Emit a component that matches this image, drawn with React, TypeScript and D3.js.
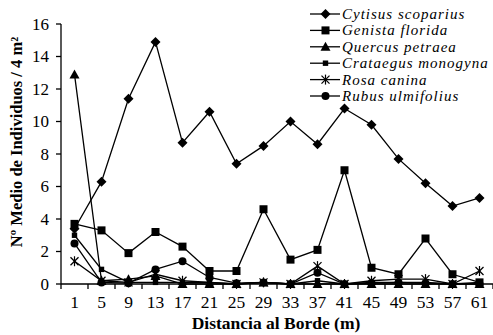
import React from "react";
import * as d3 from "d3";

const distances = ["1", "5", "9", "13", "17", "21", "25", "29", "33", "37", "41", "45", "49", "53", "57", "61"];
const cytisus = [3.4, 6.3, 11.4, 14.9, 8.7, 10.6, 7.4, 8.5, 10.0, 8.6, 10.8, 9.8, 7.7, 6.2, 4.8, 5.3];
const genista = [3.7, 3.3, 1.9, 3.2, 2.3, 0.8, 0.8, 4.6, 1.5, 2.1, 7.0, 1.0, 0.6, 2.8, 0.6, 0.1];
const quercus = [12.9, 0.2, 0.3, 0.5, 0.0, 0.0, 0.0, 0.1, 0.0, 0.0, 0.0, 0.0, 0.0, 0.0, 0.0, 0.0];
const crataegus = [3.0, 0.9, 0.1, 0.1, 0.1, 0.1, 0.0, 0.1, 0.0, 0.2, 0.0, 0.1, 0.1, 0.1, 0.0, 0.1];
const rosa = [1.4, 0.2, 0.1, 0.6, 0.2, 0.1, 0.0, 0.1, 0.0, 1.1, 0.0, 0.2, 0.3, 0.3, 0.0, 0.8];
const rubus = [2.5, 0.1, 0.05, 0.9, 1.4, 0.4, 0.05, 0.1, 0.0, 0.7, 0.0, 0.05, 0.1, 0.05, 0.0, 0.0];
const yTicks = [0, 2, 4, 6, 8, 10, 12, 14, 16];

const series = [
  { name: "Cytisus scoparius", values: cytisus, marker: "diamond" },
  { name: "Genista florida", values: genista, marker: "square" },
  { name: "Quercus petraea", values: quercus, marker: "triangle" },
  { name: "Crataegus monogyna", values: crataegus, marker: "smallsquare" },
  { name: "Rosa canina", values: rosa, marker: "asterisk" },
  { name: "Rubus ulmifolius", values: rubus, marker: "circle" },
];

const W = 493;
const H = 335;
const left = 61;
const right = 493;
const top = 24;
const bottom = 284;
const serif = { fontFamily: "Liberation Serif" };

const Marker = ({ type, x, y }: { type: string; x: number; y: number }) => {
  switch (type) {
    case "diamond":
      return <path d={`M${x},${y - 5}L${x + 5},${y}L${x},${y + 5}L${x - 5},${y}Z`} fill="#000" />;
    case "square":
      return <rect x={x - 4} y={y - 4} width={8} height={8} fill="#000" />;
    case "triangle":
      return <path d={`M${x},${y - 5}L${x + 5},${y + 4}L${x - 5},${y + 4}Z`} fill="#000" />;
    case "smallsquare":
      return <rect x={x - 2.7} y={y - 2.7} width={5.4} height={5.4} fill="#000" />;
    case "asterisk":
      return (
        <g stroke="#000" strokeWidth={1.2}>
          <line x1={x - 4} y1={y - 4} x2={x + 4} y2={y + 4} />
          <line x1={x - 4} y1={y + 4} x2={x + 4} y2={y - 4} />
          <line x1={x} y1={y - 5} x2={x} y2={y + 5} />
        </g>
      );
    default:
      return <circle cx={x} cy={y} r={4} fill="#000" />;
  }
};

export default function App() {
  const x = d3.scaleBand<string>().domain(distances).range([left, right]);
  const y = d3.scaleLinear().domain([0, 16]).range([bottom, top]);
  const cx = (d: string) => (x(d) ?? 0) + x.bandwidth() / 2;
  const line = d3
    .line<number>()
    .x((_, i) => cx(distances[i]))
    .y((v) => y(v));

  const boundaries = distances.map((d) => x(d) ?? 0).concat([right]);

  return (
    <svg width={W} height={H} style={{ position: "fixed", left: 0, top: 0, background: "#fff" }}>
      {/* lines and markers */}
      {series.map((s) => (
        <g key={s.name}>
          <path d={line(s.values) ?? ""} fill="none" stroke="#000" strokeWidth={1.3} />
          {s.values.map((v, i) => (
            <Marker key={i} type={s.marker} x={cx(distances[i])} y={y(v)} />
          ))}
        </g>
      ))}

      {/* y axis */}
      <line x1={left} x2={left} y1={top} y2={bottom} stroke="#000" strokeWidth={1.3} />
      {yTicks.map((t) => (
        <g key={t}>
          <line x1={left - 5} x2={left} y1={y(t)} y2={y(t)} stroke="#000" strokeWidth={1.3} />
          <text x={49} y={y(t)} dy="0.35em" textAnchor="end" fontSize={17} style={serif}>
            {t}
          </text>
        </g>
      ))}

      {/* x axis */}
      <line x1={left} x2={right} y1={bottom} y2={bottom} stroke="#000" strokeWidth={1.3} />
      {boundaries.map((b, i) => (
        <line key={i} x1={b} x2={b} y1={bottom} y2={bottom + 5} stroke="#000" strokeWidth={1.3} />
      ))}
      {distances.map((d) => (
        <text key={d} x={cx(d)} y={308} textAnchor="middle" fontSize={17.5} style={serif}>
          {d}
        </text>
      ))}

      <text x={276} y={329} textAnchor="middle" fontSize={17.5} fontWeight="bold" style={serif}>
        Distancia al Borde (m)
      </text>
      <text
        transform={`translate(22,142) rotate(-90)`}
        textAnchor="middle"
        fontSize={16.5}
        fontWeight="bold"
        style={serif}
      >
        Nº Medio de Individuos / 4 m²
      </text>

      {/* legend */}
      {series.map((s, i) => {
        const ly = 14 + i * 16.4;
        return (
          <g key={s.name}>
            <line x1={310} x2={340} y1={ly} y2={ly} stroke="#000" strokeWidth={1.3} />
            <Marker type={s.marker} x={325.5} y={ly} />
            <text x={342} y={ly} dy="0.33em" fontSize={15} fontStyle="italic" letterSpacing={1.0} style={serif}>
              {s.name}
            </text>
          </g>
        );
      })}
    </svg>
  );
}
